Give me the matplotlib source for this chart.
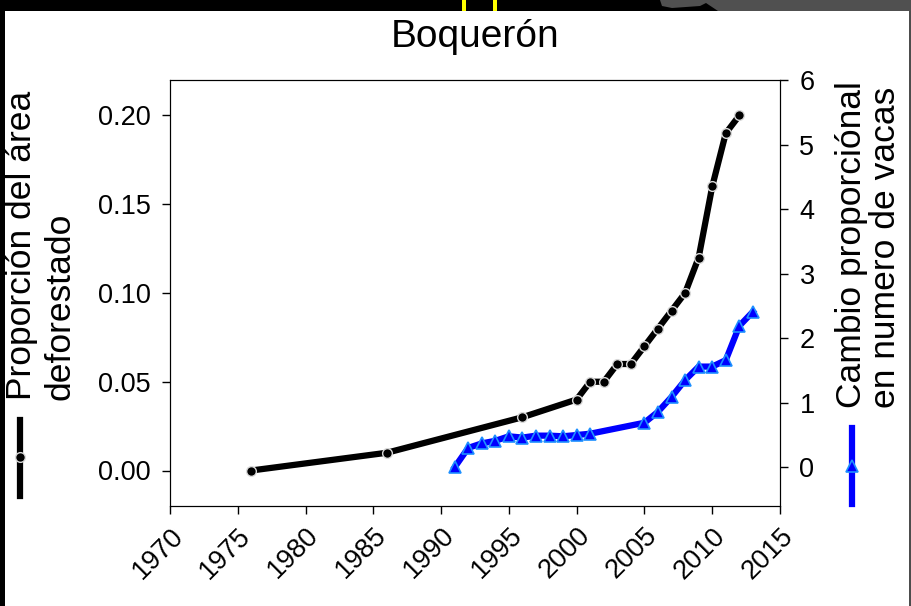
import matplotlib
matplotlib.use('Agg')
import matplotlib.pyplot as plt
from matplotlib.lines import Line2D
from matplotlib.patches import Rectangle, Polygon

plt.rcParams['font.family'] = ['Liberation Sans', 'DejaVu Sans']

# area deforestada (eje izq.)
years_def = [1976, 1986, 1996, 2000, 2001, 2002, 2003, 2004, 2005, 2006,
             2007, 2008, 2009, 2010, 2011, 2012]
prop_def = [0.00, 0.01, 0.03, 0.04, 0.05, 0.05, 0.06, 0.06, 0.07, 0.08,
            0.09, 0.10, 0.12, 0.16, 0.19, 0.20]

# cambio en numero de vacas (eje der.)
years_vac = [1991, 1992, 1993, 1994, 1995, 1996, 1997, 1998, 1999, 2000,
             2001, 2005, 2006, 2007, 2008, 2009, 2010, 2011, 2012, 2013]
cambio_vac = [0.00, 0.30, 0.37, 0.41, 0.48, 0.46, 0.49, 0.49, 0.48, 0.50,
              0.52, 0.69, 0.86, 1.09, 1.35, 1.56, 1.56, 1.66, 2.19, 2.41]

xticks = [1970, 1975, 1980, 1985, 1990, 1995, 2000, 2005, 2010, 2015]
yticks_l = [0.00, 0.05, 0.10, 0.15, 0.20]
yticks_r = [0, 1, 2, 3, 4, 5, 6]

W, H = 912, 606
fig = plt.figure(figsize=(W / 100, H / 100), dpi=100, facecolor='black')

# marco de la captura
fig.add_artist(Rectangle((5 / W, 0), 904 / W, 1 - 11 / H, transform=fig.transFigure,
                         facecolor='white', edgecolor='none', zorder=-10))
fig.add_artist(Rectangle((909 / W, 0), 3 / W, 1, transform=fig.transFigure,
                         facecolor='#4d4d4d', edgecolor='none', zorder=-10))
fig.add_artist(Polygon([(660 / W, 1), (662 / W, 1 - 6 / H), (672 / W, 1 - 8 / H),
                        (700 / W, 1 - 6 / H), (706 / W, 1 - 3 / H), (718 / W, 1 - 11 / H),
                        (912 / W, 1 - 11 / H), (912 / W, 1)],
                       closed=True, transform=fig.transFigure,
                       facecolor='#505050', edgecolor='none', zorder=-9))
for xx in [462, 493]:
    fig.add_artist(Rectangle((xx / W, 1 - 11 / H), 4 / W, 11 / H, transform=fig.transFigure,
                             facecolor='#ffff00', edgecolor='none', zorder=-9))

ax = fig.add_axes([170 / W, 1 - 506 / H, 610 / W, 426 / H])
ax.set_facecolor('white')
ax.plot(years_def, prop_def, color='black', lw=4.5, marker='o', ms=7,
        mfc='black', mec='#d9d9d9', mew=1)
ax.set_xlim(1970, 2015)
ax.set_ylim(-0.02, 0.22)
ax.set_xticks(xticks)
ax.set_xticklabels([str(x) for x in xticks], rotation=45, ha='right', va='top',
                   rotation_mode='anchor')
ax.set_yticks(yticks_l)
ax.set_yticklabels(['%.2f' % v for v in yticks_l])
ax.tick_params(direction='out', length=6, width=1, labelsize=19.5, pad=8)
ax.tick_params(axis='x', pad=6)

ax2 = ax.twinx()
ax2.plot(years_vac, cambio_vac, color='#0000ff', lw=4.5, marker='^', ms=9,
         mfc='#0000ff', mec='#1e90ff', mew=1.2)
ax2.set_ylim(-0.6, 6)
ax2.set_yticks(yticks_r)
ax2.tick_params(direction='out', length=6, width=1, labelsize=19.5, pad=8)

fig.text(475 / W, 1 - 47 / H, 'Boquerón', fontsize=28, ha='center', va='baseline')

fig.text(22 / W, 1 - 400 / H, 'Proporción del área', fontsize=25.5, rotation=90,
         ha='center', va='bottom')
fig.text(60 / W, 1 - 400 / H, 'deforestado', fontsize=25.5, rotation=90,
         ha='center', va='bottom')
fig.text(852 / W, 1 - 408 / H, 'Cambio proporciónal', fontsize=25.5, rotation=90,
         ha='center', va='bottom')
fig.text(886 / W, 1 - 408 / H, 'en numero de vacas', fontsize=25.5, rotation=90,
         ha='center', va='bottom')

# simbolos tipo leyenda junto a las etiquetas
fig.add_artist(Line2D([20 / W, 20 / W], [1 - 420 / H, 1 - 496 / H], transform=fig.transFigure,
                      color='black', lw=4.5))
fig.add_artist(Line2D([20 / W], [1 - 457 / H], transform=fig.transFigure, color='black',
                      marker='o', ms=7, mfc='black', mec='#d9d9d9', mew=1))
fig.add_artist(Line2D([852 / W, 852 / W], [1 - 428 / H, 1 - 504 / H], transform=fig.transFigure,
                      color='#0000ff', lw=4.5))
fig.add_artist(Line2D([852 / W], [1 - 466 / H], transform=fig.transFigure, color='#0000ff',
                      marker='^', ms=9, mfc='#0000ff', mec='#1e90ff', mew=1.2))

fig.savefig('out.png', dpi=100, facecolor='black')
